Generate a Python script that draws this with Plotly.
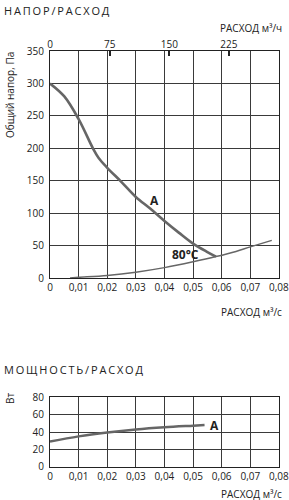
import plotly.graph_objects as go

# Pressure curve A
flow_a = [0, 0.005, 0.01, 0.015, 0.017, 0.02, 0.025, 0.03, 0.035, 0.04, 0.045, 0.05, 0.055, 0.058]
press_a = [300, 280, 245, 200, 185, 170, 148, 125, 107, 88, 70, 53, 40, 33]
# System curve 80°C
flow_s = [0.007, 0.01, 0.02, 0.03, 0.04, 0.05, 0.058, 0.065, 0.07, 0.0775]
press_s = [0, 1, 4, 9, 16, 25, 33, 41, 48, 58]
# Power curve A
flow_p = [0, 0.01, 0.02, 0.03, 0.04, 0.05, 0.054]
power_p = [29, 35, 39.5, 43, 45.5, 47.3, 48]

x_ticks = [0, 0.01, 0.02, 0.03, 0.04, 0.05, 0.06, 0.07, 0.08]
x_ticktext = ["0", "0,01", "0,02", "0,03", "0,04", "0,05", "0,06", "0,07", "0,08"]
y1_ticks = [0, 50, 100, 150, 200, 250, 300, 350]
y2_ticks = [0, 20, 40, 60, 80]
top_ticks = [0, 75, 150, 225]

LINE = "#666666"
GRID = "#3a3a3a"
TXT = "#222222"
FONT = "Open Sans"

fig = go.Figure()
fig.add_trace(go.Scatter(x=flow_a, y=press_a, mode="lines", line=dict(color=LINE, width=2.6, shape="spline"),
                         xaxis="x", yaxis="y", showlegend=False))
fig.add_trace(go.Scatter(x=flow_s, y=press_s, mode="lines", line=dict(color=LINE, width=1.5, shape="spline"),
                         xaxis="x", yaxis="y", showlegend=False))
fig.add_trace(go.Scatter(x=flow_p, y=power_p, mode="lines", line=dict(color=LINE, width=2.5, shape="spline"),
                         xaxis="x2", yaxis="y2", showlegend=False))
# invisible trace for top axis
fig.add_trace(go.Scatter(x=[0, 288], y=[None, None], mode="lines", xaxis="x3", yaxis="y",
                         showlegend=False, hoverinfo="skip"))

xd = [50 / 289, 279 / 289]
common_x = dict(range=[0, 0.08002], tickvals=x_ticks, ticktext=x_ticktext, showgrid=True, gridcolor=GRID,
                gridwidth=1, showline=True, linecolor="#222", linewidth=1.2, mirror=True, ticks="",
                ticklabeloverflow="allow", automargin=False,
                tickfont=dict(size=10, color=TXT, family=FONT), zeroline=False, fixedrange=True)
fig.update_layout(
    width=289, height=500, margin=dict(l=0, r=0, t=0, b=0, autoexpand=False),
    paper_bgcolor="white", plot_bgcolor="white",
    font=dict(family=FONT, color=TXT),
    xaxis=dict(domain=xd, anchor="y", **common_x),
    yaxis=dict(domain=[1 - 278 / 500, 1 - 51 / 500], range=[0, 350.1], tickvals=y1_ticks, showgrid=True,
               gridcolor=GRID, showline=True, linecolor="#222", linewidth=1.2, mirror=True, ticks="outside",
               ticklen=3, tickcolor="white", automargin=False,
               tickfont=dict(size=10, color=TXT, family=FONT), zeroline=False, anchor="x"),
    xaxis2=dict(domain=xd, anchor="y2", **common_x),
    yaxis2=dict(domain=[1 - 466.7 / 500, 1 - 397.3 / 500], range=[0, 80.05], tickvals=y2_ticks, showgrid=True,
                gridcolor=GRID, showline=True, linecolor="#222", linewidth=1.2, mirror=True, ticks="outside",
                ticklen=3, tickcolor="white", automargin=False,
                tickfont=dict(size=10, color=TXT, family=FONT), zeroline=False, anchor="x2"),
    xaxis3=dict(domain=xd, anchor="y", overlaying="x", side="top", range=[0, 288], tickvals=top_ticks,
                showgrid=False, ticks="inside", ticklen=5, tickcolor="#222", tickwidth=1.5, automargin=False,
                tickfont=dict(size=10, color=TXT, family=FONT), zeroline=False, showline=False),
)

thin = "\u2009"
def spaced(s):
    return thin.join(list(s))

ann = [
    dict(text=spaced("НАПОР/РАСХОД"), x=2, y=10, font=dict(size=11, color=TXT)),
    dict(text=spaced("МОЩНОСТЬ/РАСХОД"), x=2, y=369, font=dict(size=11, color=TXT)),
]
for a in ann:
    fig.add_annotation(xref="paper", yref="paper", x=a["x"] / 289, y=1 - a["y"] / 500, xanchor="left",
                       yanchor="middle", text=a["text"], showarrow=False, font=dict(family=FONT, **a["font"]))
for txt, yy in [("РАСХОД м³/ч", 28), ("РАСХОД м³/с", 312), ("РАСХОД м³/с", 494)]:
    fig.add_annotation(xref="paper", yref="paper", x=284 / 289, y=1 - yy / 500, xanchor="right",
                       yanchor="middle", text=txt, showarrow=False, font=dict(family=FONT, size=10, color=TXT))
fig.add_annotation(xref="paper", yref="paper", x=10 / 289, y=1 - 95 / 500, text="Общий напор, Па",
                   textangle=-90, showarrow=False, xanchor="center", yanchor="middle",
                   font=dict(family=FONT, size=10, color=TXT))
fig.add_annotation(xref="paper", yref="paper", x=10 / 289, y=1 - 399 / 500, text="Вт",
                   textangle=-90, showarrow=False, xanchor="center", yanchor="middle",
                   font=dict(family=FONT, size=10, color=TXT))
fig.add_annotation(xref="x", yref="y", x=0.0365, y=119, text="<b>A</b>", showarrow=False,
                   font=dict(family=FONT, size=12, color=TXT))
fig.add_annotation(xref="x", yref="y", x=0.0475, y=37, text="<b>80°C</b>", showarrow=False,
                   font=dict(family=FONT, size=12, color=TXT))
fig.add_annotation(xref="x2", yref="y2", x=0.0575, y=47.5, text="<b>A</b>", showarrow=False,
                   font=dict(family=FONT, size=12, color=TXT))

fig.write_html("out.html")
